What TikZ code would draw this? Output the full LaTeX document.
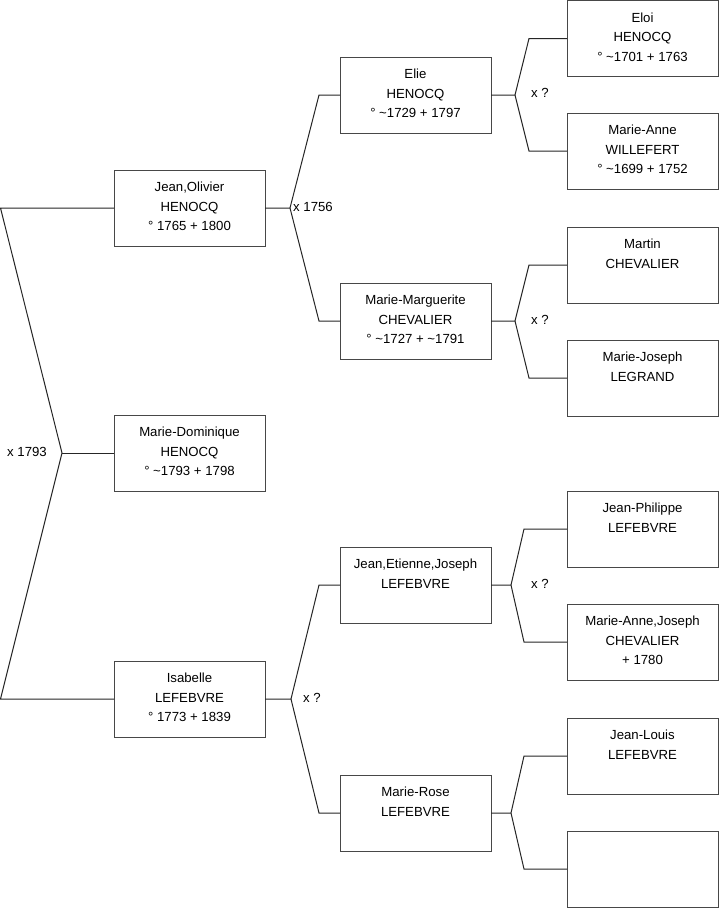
\documentclass[tikz,border=0pt]{standalone}
\usepackage{fontspec}
\setmainfont{Liberation Sans}
\usetikzlibrary{calc}
\tikzset{
  box/.style={rectangle, draw=black!72, line width=1pt, minimum width=151pt, minimum height=76pt, inner sep=0pt, outer sep=0pt},
  txt/.style={font=\fontsize{13.2}{19.3}\selectfont, align=center, inner sep=0pt, anchor=north},
  conn/.style={draw=black!85, line width=1pt},
  mlbl/.style={font=\fontsize{13.2}{16}\selectfont, inner sep=0pt}
}
\newcommand{\person}[4]{%
  \node[box] (#1) at (#2+75.5,#3+38) {};
  \node[txt] (#1t) at (#2+75.5,#3+11.7) {\rule{0pt}{10pt}#4};
}
\begin{document}
\begin{tikzpicture}[x=1pt,y=-1pt]
\useasboundingbox (0,0) rectangle (719,908);
\fill[white] (0,0) rectangle (719,908);

\person{jo}{114}{170}{Jean,Olivier\\HENOCQ\\° 1765 + 1800}
\person{md}{114}{415}{Marie-Dominique\\HENOCQ\\° \textasciitilde{}1793 + 1798}
\person{is}{114}{661}{Isabelle\\LEFEBVRE\\° 1773 + 1839}
\person{el}{340}{57}{Elie\\HENOCQ\\° \textasciitilde{}1729 + 1797}
\person{mm}{340}{283}{Marie-Marguerite\\CHEVALIER\\° \textasciitilde{}1727 + \textasciitilde{}1791}
\person{jej}{340}{547}{Jean,Etienne,Joseph\\LEFEBVRE}
\person{mr}{340}{775}{Marie-Rose\\LEFEBVRE}
\person{eloi}{567}{0.5}{Eloi\\HENOCQ\\° \textasciitilde{}1701 + 1763}
\person{maw}{567}{113}{Marie-Anne\\WILLEFERT\\° \textasciitilde{}1699 + 1752}
\person{mar}{567}{227}{Martin\\CHEVALIER}
\person{mjl}{567}{340}{Marie-Joseph\\LEGRAND}
\person{jp}{567}{491}{Jean-Philippe\\LEFEBVRE}
\person{maj}{567}{604}{Marie-Anne,Joseph\\CHEVALIER\\+ 1780}
\person{jl}{567}{718}{Jean-Louis\\LEFEBVRE}
\person{em}{567}{831}{}

% left bracket
\coordinate (L1) at (0.5,208);
\coordinate (LA) at (62,453);
\coordinate (L2) at (0.5,699);
\draw[conn] (jo.west) -- (L1) -- (LA) -- (L2) -- (is.west);
\draw[conn] (LA) -- (md.west);
\node[mlbl, anchor=east] (m1) at (47,452) {x 1793};

% middle brackets
\coordinate (A1) at ($(jo.east)+(25,0)$);
\draw[conn] (jo.east) -- (A1) -- ([xshift=-21pt]el.west) -- (el.west);
\draw[conn] (A1) -- ([xshift=-21pt]mm.west) -- (mm.west);
\node[mlbl, anchor=west] (m2) at ([xshift=3pt,yshift=1pt]A1) {x 1756};

\coordinate (A2) at ($(is.east)+(26,0)$);
\draw[conn] (is.east) -- (A2) -- ([xshift=-21pt]jej.west) -- (jej.west);
\draw[conn] (A2) -- ([xshift=-21pt]mr.west) -- (mr.west);
\node[mlbl, anchor=west] (m3) at (303,698) {x ?};

% right brackets
\coordinate (A3) at ($(el.east)+(24,0)$);
\draw[conn] (el.east) -- (A3) -- ([xshift=-38pt]eloi.west) -- (eloi.west);
\draw[conn] (A3) -- ([xshift=-38pt]maw.west) -- (maw.west);
\node[mlbl, anchor=west] (m4) at (531,93) {x ?};

\coordinate (A4) at ($(mm.east)+(24,0)$);
\draw[conn] (mm.east) -- (A4) -- ([xshift=-38pt]mar.west) -- (mar.west);
\draw[conn] (A4) -- ([xshift=-38pt]mjl.west) -- (mjl.west);
\node[mlbl, anchor=west] (m5) at (531,320) {x ?};

\coordinate (A5) at ($(jej.east)+(20,0)$);
\draw[conn] (jej.east) -- (A5) -- ([xshift=-43pt]jp.west) -- (jp.west);
\draw[conn] (A5) -- ([xshift=-43pt]maj.west) -- (maj.west);
\node[mlbl, anchor=west] (m6) at (531,584) {x ?};

\coordinate (A6) at ($(mr.east)+(20,0)$);
\draw[conn] (mr.east) -- (A6) -- ([xshift=-43pt]jl.west) -- (jl.west);
\draw[conn] (A6) -- ([xshift=-43pt]em.west) -- (em.west);
\end{tikzpicture}
\end{document}
